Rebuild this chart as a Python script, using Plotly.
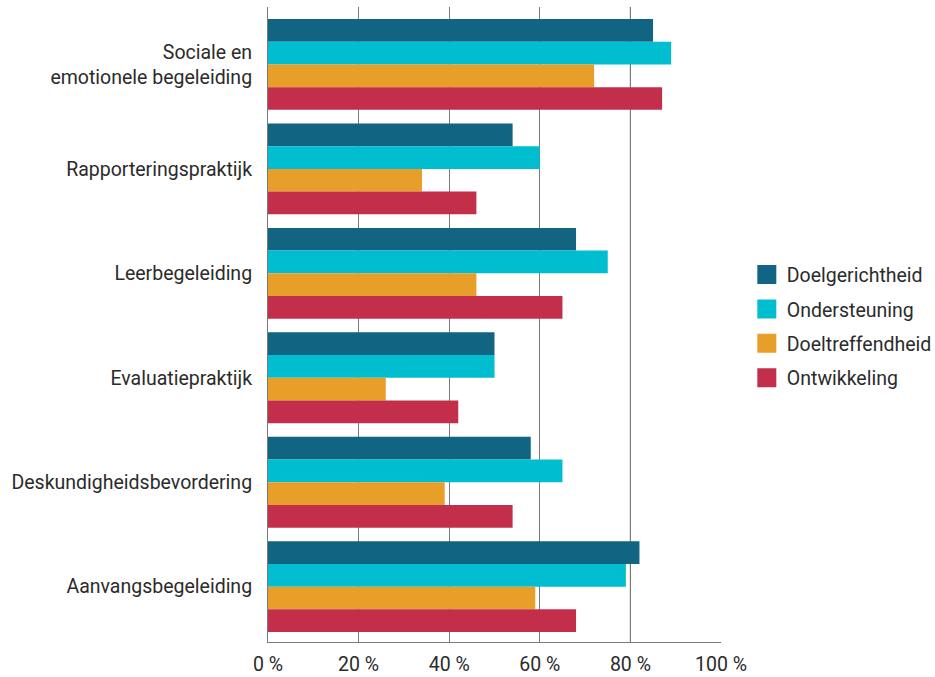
import plotly.graph_objects as go

categories = [
    "Sociale en<br>emotionele begeleiding",
    "Rapporteringspraktijk",
    "Leerbegeleiding",
    "Evaluatiepraktijk",
    "Deskundigheidsbevordering",
    "Aanvangsbegeleiding",
]
series_names = ["Doelgerichtheid", "Ondersteuning", "Doeltreffendheid", "Ontwikkeling"]
doelgerichtheid = [85, 54, 68, 50, 58, 82]
ondersteuning = [89, 60, 75, 50, 65, 79]
doeltreffendheid = [72, 34, 46, 26, 39, 59]
ontwikkeling = [87, 46, 65, 42, 54, 68]
tick_values = [0, 20, 40, 60, 80, 100]
tick_labels = ["0 %", "20 %", "40 %", "60 %", "80 %", "100 %"]

colors = ["#116482", "#00BDD0", "#E89F2A", "#C32F4B"]
series_values = [doelgerichtheid, ondersteuning, doeltreffendheid, ontwikkeling]

FONT = "Roboto"
TEXT = "#2b2b2b"
FS = 19.5

fig = go.Figure()
for name, vals, col in zip(series_names, series_values, colors):
    fig.add_trace(go.Bar(
        x=vals, y=categories, name=name, orientation="h",
        marker=dict(color=col, line=dict(width=0)),
        showlegend=False,
    ))

# legend entries with larger square swatches
for name, col in zip(series_names, colors):
    fig.add_trace(go.Scatter(
        x=[None], y=[None], name=name, mode="markers", legendgroup=name,
        marker=dict(symbol="square", size=16, color=col, line=dict(color=col, width=3)),
        showlegend=True, hoverinfo="skip",
    ))

fig.update_layout(
    width=935, height=677,
    margin=dict(l=268, r=214, t=7, b=35, autoexpand=False),
    paper_bgcolor="white", plot_bgcolor="white",
    barmode="group", bargap=0.13, bargroupgap=0,
    font=dict(family=FONT, size=FS, color=TEXT),
    showlegend=True,
    legend=dict(
        x=1.057, y=0.497, xanchor="left", yanchor="middle",
        font=dict(family=FONT, size=FS, color=TEXT),
        traceorder="grouped", tracegroupgap=6,
        itemwidth=30, itemsizing="trace",
    ),
    xaxis=dict(
        range=[0, 100], tickvals=tick_values, ticktext=tick_labels,
        showgrid=True, gridcolor="#7a7a7a", gridwidth=1,
        showline=True, linecolor="#7a7a7a", linewidth=1,
        zeroline=False, ticks="", ticklabelstandoff=5,
        tickfont=dict(family=FONT, size=FS, color=TEXT),
        fixedrange=True,
    ),
    yaxis=dict(
        range=[5.53, -0.55], showgrid=False,
        showline=True, linecolor="#7a7a7a", linewidth=1,
        ticks="", ticklabelstandoff=11,
        tickfont=dict(family=FONT, size=FS, color=TEXT),
        fixedrange=True,
    ),
    shapes=[dict(
        type="line", xref="x", yref="paper", x0=80, x1=80, y0=0, y1=1,
        line=dict(color="black", width=1), layer="below",
    )],
)

fig.write_html("out.html")
